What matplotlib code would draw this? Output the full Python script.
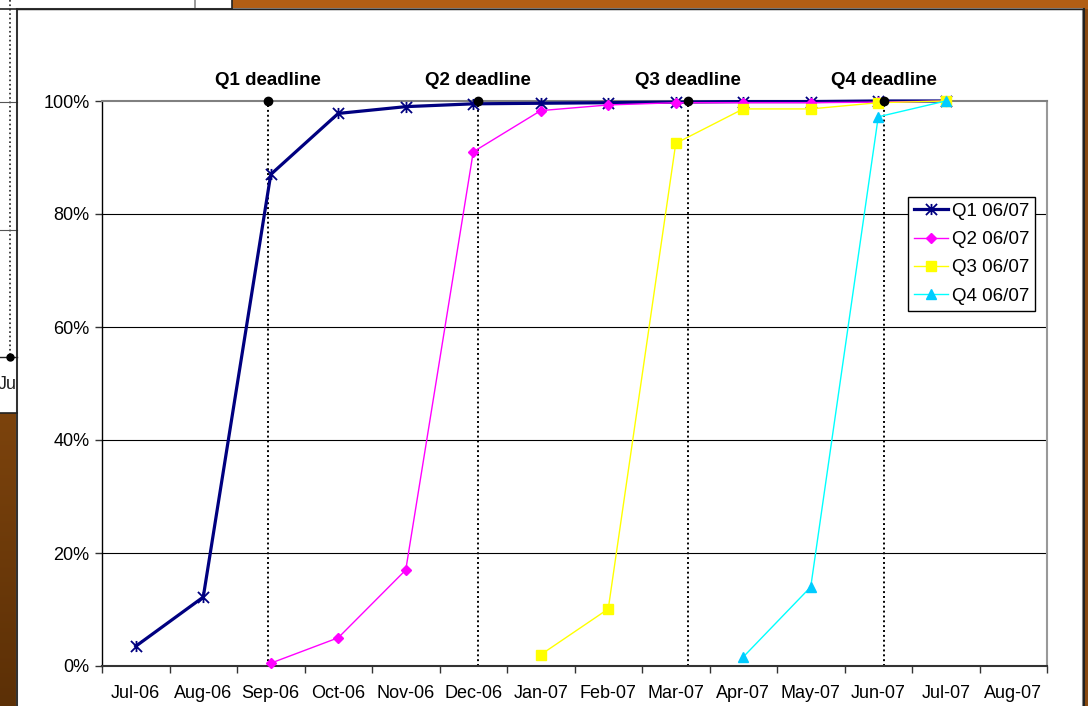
import numpy as np
import matplotlib
matplotlib.use("Agg")
import matplotlib.pyplot as plt
from matplotlib.patches import Rectangle
from matplotlib.lines import Line2D
from matplotlib.path import Path
from matplotlib.colors import LinearSegmentedColormap

months = ["Jul-06", "Aug-06", "Sep-06", "Oct-06", "Nov-06", "Dec-06", "Jan-07",
          "Feb-07", "Mar-07", "Apr-07", "May-07", "Jun-07", "Jul-07", "Aug-07"]
nan = np.nan
q1 = [3.5, 12.2, 87.0, 97.8, 99.0, 99.5, 99.6, 99.7, 99.8, 99.9, 99.9, 100.0, 100.0, nan]
q2 = [nan, nan, 0.5, 5.0, 17.0, 91.0, 98.3, 99.3, 99.7, 99.7, 99.7, 99.8, 100.0, nan]
q3 = [nan, nan, nan, nan, nan, nan, 2.0, 10.1, 92.5, 98.6, 98.6, 99.7, 100.0, nan]
q4 = [nan, nan, nan, nan, nan, nan, nan, nan, nan, 1.6, 14.0, 97.2, 100.0, nan]
series_names = ["Q1 06/07", "Q2 06/07", "Q3 06/07", "Q4 06/07"]
deadline_labels = ["Q1 deadline", "Q2 deadline", "Q3 deadline", "Q4 deadline"]
deadline_pos = [1.96, 5.07, 8.18, 11.09]
deadline_val = [100, 100, 100, 100]

W, H = 1088, 706
fig = plt.figure(figsize=(W / 100, H / 100), dpi=100)
plt.rcParams['font.family'] = ['Liberation Sans', 'DejaVu Sans']


def px_rect(x0, y0, x1, y1, **kw):
    r = Rectangle((x0 / W, 1 - y1 / H), (x1 - x0) / W, (y1 - y0) / H,
                  transform=fig.transFigure, **kw)
    fig.add_artist(r)
    return r


def px_line(xs, ys, **kw):
    l = Line2D([x / W for x in xs], [1 - y / H for y in ys],
               transform=fig.transFigure, **kw)
    fig.add_artist(l)
    return l


# ---- background decoration (other slide objects) ----
fig.patch.set_facecolor("white")
px_rect(232, 0, W, 9, facecolor="#B25E14", edgecolor="none", zorder=0)
px_line([195, 195], [0, 9], color="#888888", lw=1.2, zorder=1)
px_line([232, 232], [0, 9], color="#222222", lw=1.2, zorder=1)
px_line([0, 232], [8.5, 8.5], color="#222222", lw=1.2, zorder=1)
# left strip
grad = np.linspace(0, 1, 100).reshape(-1, 1)
axg = fig.add_axes([0, 0, 17 / W, 1 - 413 / H], zorder=0)
cm = LinearSegmentedColormap.from_list("b", ["#7C430D", "#5C3006"])
axg.imshow(grad, cmap=cm, aspect="auto")
axg.axis("off")
px_line([0, 17], [413, 413], color="#222222", lw=1.2, zorder=1)
px_line([10, 10], [0, 357], color="#222222", lw=1.2, ls=":", zorder=1)
px_line([0, 17], [230, 230], color="#555555", lw=0.8, zorder=1)
px_line([0, 17], [102, 102], color="#555555", lw=0.8, zorder=1)
px_line([0, 17], [357, 357], color="#222222", lw=1.0, zorder=1)
px_line([10], [357], color="black", marker="o", ms=5, lw=0, zorder=2)
fig.text(-2 / W, 1 - 384 / H, "Ju", fontsize=13, ha="left", va="center", color="#222222")
# right strip
px_rect(1083, 9, W, H, facecolor="#8A4A10", edgecolor="none", zorder=0)
px_line([1084, 1084], [9, H], color="#222222", lw=1.5, zorder=1)
# main panel
px_rect(17, 9, 1083, H + 5, facecolor="white", edgecolor="#888888", lw=1.5, zorder=0.5)
px_line([17, 17], [9, H], color="#222222", lw=1.2, zorder=1)
px_line([17, 1083], [9, 9], color="#222222", lw=1.0, zorder=1)

# ---- main chart ----
ax = fig.add_axes([102 / W, 1 - 666 / H, (1047 - 102) / W, (666 - 101) / H], zorder=2)
ax.set_facecolor("white")
x = np.arange(len(months))

# gridlines
for g in [20, 40, 60, 80]:
    ax.axhline(g, color="black", lw=0.8, zorder=1)

# deadlines
for pos, val, lab in zip(deadline_pos, deadline_val, deadline_labels):
    ax.plot([pos, pos], [0, val], color="black", ls=(0, (1, 1.5)), lw=1.4, zorder=2)
    ax.plot([pos], [val], marker="o", color="black", ms=6, clip_on=False, zorder=6)
    ax.annotate(lab, (pos, val), xytext=(0, 15), textcoords="offset points",
                ha="center", va="center", fontsize=13.5, fontweight="bold")

star = Path([(0, -1), (0, 1), (-1, -1), (1, 1), (-1, 1), (1, -1)],
            [Path.MOVETO, Path.LINETO, Path.MOVETO, Path.LINETO, Path.MOVETO, Path.LINETO])

ax.plot(x, q1, color="#000080", lw=2.3, marker=star, ms=8, mew=1.3,
        mec="#000080", label=series_names[0], zorder=3, clip_on=False)
ax.plot(x, q2, color="#FF00FF", lw=1.0, marker="D", ms=5.5, mec="#FF00FF",
        mfc="#FF00FF", label=series_names[1], zorder=4, clip_on=False)
ax.plot(x, q3, color="#FFFF00", lw=1.0, marker="s", ms=7, mec="#FFFF00",
        mfc="#FFFF00", label=series_names[2], zorder=4, clip_on=False)
ax.plot(x, q4, color="#00FFFF", lw=1.0, marker="^", ms=7, mec="#00CCFF",
        mfc="#00CCFF", label=series_names[3], zorder=4, clip_on=False)

ax.set_xlim(-0.5, len(months) - 0.5)
ax.set_ylim(0, 100)
ax.set_yticks([0, 20, 40, 60, 80, 100])
ax.set_yticklabels(["0%", "20%", "40%", "60%", "80%", "100%"], fontsize=13)
ax.set_xticks(np.arange(-0.5, len(months)), minor=False)
ax.set_xticklabels([])
ax.set_xticks(x, minor=True)
ax.set_xticklabels(months, minor=True, fontsize=13)
ax.tick_params(axis="x", which="minor", length=0, pad=14)
ax.tick_params(axis="x", which="major", direction="out", length=5, width=1, color="#333333")
ax.tick_params(axis="y", direction="out", length=5, width=1, color="#333333", pad=4)

ax.spines["left"].set_color("black")
ax.spines["left"].set_linewidth(1.0)
ax.spines["bottom"].set_color("#333333")
ax.spines["bottom"].set_linewidth(1.5)
ax.spines["top"].set_color("#808080")
ax.spines["top"].set_linewidth(1.5)
ax.spines["right"].set_color("#999999")
ax.spines["right"].set_linewidth(1.5)

leg = ax.legend(loc="upper left", bbox_to_anchor=(908 / W, 1 - 197 / H),
                bbox_transform=fig.transFigure, fontsize=13.5, frameon=True,
                fancybox=False, framealpha=1, edgecolor="black", handlelength=1.85,
                handletextpad=0.2, labelspacing=0.6, borderpad=0.3, borderaxespad=0)
leg.get_frame().set_linewidth(1.0)
leg.set_zorder(10)

fig.savefig("out.png", dpi=100)
